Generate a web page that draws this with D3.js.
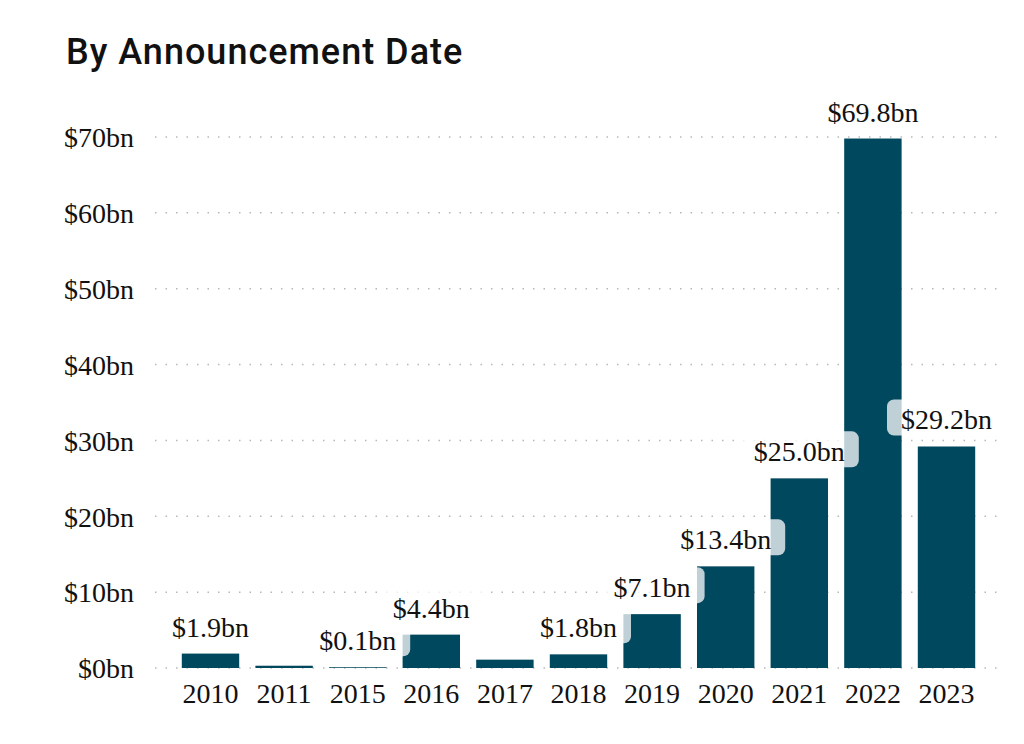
<!DOCTYPE html>
<html lang="en">
<head>
<meta charset="UTF-8">
<title>By Announcement Date</title>
<script src="https://cdn.jsdelivr.net/npm/d3@7/dist/d3.min.js"></script>
<style>
  body { margin: 0; background: #fff; }
</style>
</head>
<body>
<svg id="chart" width="1024" height="744"></svg>
<script>
  // data
  let years = ['2010', '2011', '2015', '2016', '2017', '2018', '2019', '2020', '2021', '2022', '2023'];
  let values = [1.9, 0.3, 0.1, 4.4, 1.1, 1.8, 7.1, 13.4, 25.0, 69.8, 29.2];
  let labelled = ['2010', '2015', '2016', '2018', '2019', '2020', '2021', '2022', '2023'];
  let yTicks = [0, 10, 20, 30, 40, 50, 60, 70];

  let barColor = '#00485d';
  let svg = d3.select('#chart');

  svg.append('text')
    .attr('x', 66).attr('y', 64)
    .attr('font-family', 'Roboto')
    .attr('font-weight', 500)
    .attr('font-size', 36)
    .attr('letter-spacing', 1)
    .attr('fill', '#111')
    .text('By Announcement Date');

  let x = d3.scaleBand().domain(years).range([145, 1012]).paddingInner(0.22).paddingOuter(0.5);
  let y = d3.scaleLinear().domain([0, 70]).range([668, 137]);

  // dotted grid
  svg.append('g').selectAll('line').data(yTicks).enter()
    .append('line')
    .attr('x1', 155).attr('x2', 1000)
    .attr('y1', d => y(d)).attr('y2', d => y(d))
    .attr('stroke', '#b8b8b8')
    .attr('stroke-width', 1.5)
    .attr('stroke-dasharray', '1.5 9');

  // y axis labels
  let yAxis = svg.append('g')
    .attr('transform', 'translate(134,0)')
    .call(d3.axisLeft(y).tickValues(yTicks).tickSize(0).tickPadding(0).tickFormat(d => '$' + d + 'bn'));
  yAxis.select('.domain').remove();
  yAxis.selectAll('text')
    .attr('font-family', 'Liberation Serif')
    .attr('font-size', 28)
    .attr('fill', '#111')
    .attr('dy', '0.35em');

  // x axis labels
  let xAxis = svg.append('g')
    .attr('transform', 'translate(0,668)')
    .call(d3.axisBottom(x).tickSize(0).tickPadding(0));
  xAxis.select('.domain').remove();
  xAxis.selectAll('text')
    .attr('font-family', 'Liberation Serif')
    .attr('font-size', 28)
    .attr('fill', '#111')
    .attr('dy', null)
    .attr('y', 35);

  let data = years.map((yr, i) => ({ year: yr, value: values[i] }));

  svg.append('g').selectAll('rect').data(data).enter()
    .append('rect')
    .attr('x', d => x(d.year))
    .attr('width', x.bandwidth())
    .attr('y', d => y(d.value))
    .attr('height', d => y(0) - y(d.value))
    .attr('fill', barColor);

  // value labels with half-transparent rounded boxes
  let labels = svg.append('g').selectAll('g').data(data.filter(d => labelled.includes(d.year))).enter()
    .append('g')
    .attr('transform', d => 'translate(' + (x(d.year) + x.bandwidth() / 2) + ',' + (y(d.value) - 17) + ')');

  labels.append('rect')
    .attr('fill', 'rgba(255,255,255,0.75)')
    .attr('rx', 7).attr('ry', 7);

  labels.append('text')
    .attr('text-anchor', 'middle')
    .attr('font-family', 'Liberation Serif')
    .attr('font-size', 28)
    .attr('fill', '#111')
    .text(d => '$' + d.value.toFixed(1) + 'bn');

  labels.each(function () {
    let g = d3.select(this);
    let b = g.select('text').node().getBBox();
    g.select('rect')
      .attr('x', b.x - 14).attr('width', b.width + 28)
      .attr('y', -30).attr('height', 36);
  });
</script>
</body>
</html>
